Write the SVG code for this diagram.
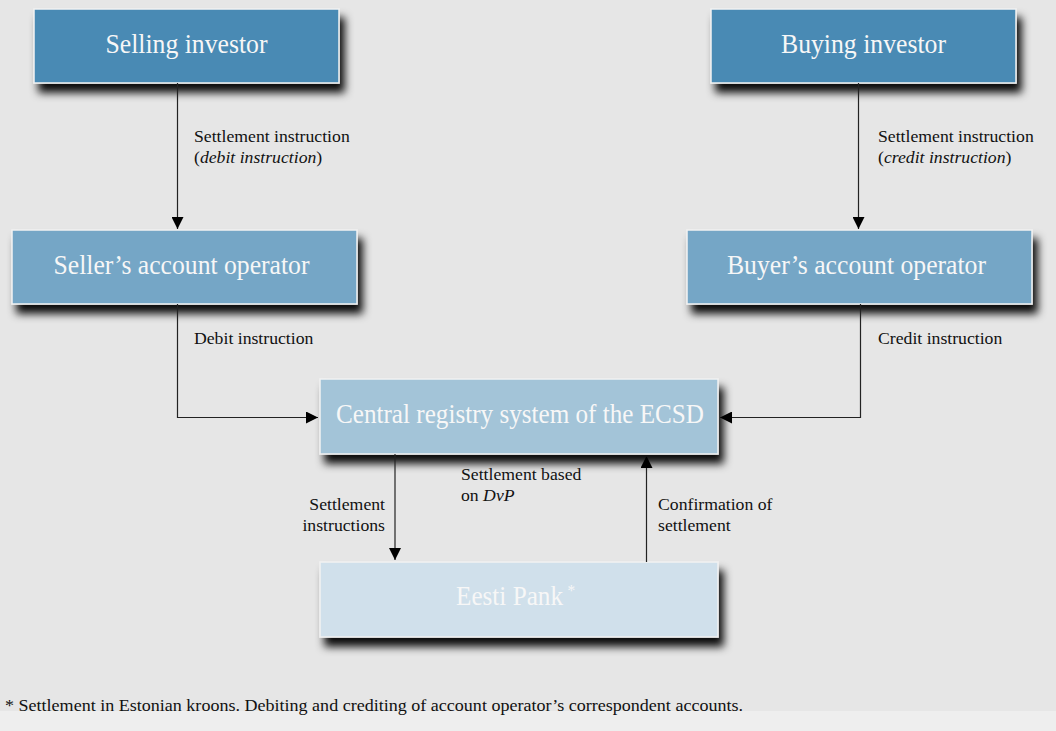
<svg xmlns="http://www.w3.org/2000/svg" width="1056" height="731" viewBox="0 0 1056 731">
<style>
.box{stroke:#f2f2f2;stroke-width:1.5}
.bt{font-family:"Liberation Serif","Times New Roman",serif;font-size:28px;fill:#f7f7f7;text-anchor:middle}
.lb{font-family:"Liberation Serif","Times New Roman",serif;font-size:17.7px;fill:#111}
.conn{fill:none;stroke:#222;stroke-width:1.2}
</style>
<defs>
<filter id="sh" x="-10%" y="-20%" width="130%" height="160%">
<feDropShadow dx="5" dy="9" stdDeviation="4" flood-color="#000" flood-opacity="0.95"/>
</filter>
<marker id="ah" markerWidth="12" markerHeight="12" refX="10" refY="5" orient="auto" markerUnits="userSpaceOnUse" viewBox="0 0 10 10">
<path d="M0,0 L10,5 L0,10 Z" fill="#000"/>
</marker>
</defs>
<rect width="1056" height="731" fill="#e6e6e6"/>
<rect x="0" y="711" width="1056" height="20" fill="#eeeeee"/>

<g id="selling-investor">
<rect class="box" x="34" y="9" width="305" height="74" fill="#4a8ab4" filter="url(#sh)"/>
<text class="bt" x="186.5" y="53" textLength="162" lengthAdjust="spacingAndGlyphs">Selling investor</text>
</g>
<g id="buying-investor">
<rect class="box" x="711" y="9" width="305" height="74" fill="#4a8ab4" filter="url(#sh)"/>
<text class="bt" x="863.5" y="53" textLength="165" lengthAdjust="spacingAndGlyphs">Buying investor</text>
</g>
<g id="seller-operator">
<rect class="box" x="12" y="230" width="345" height="74" fill="#74a6c6" filter="url(#sh)"/>
<text class="bt" x="181.5" y="274" textLength="256" lengthAdjust="spacingAndGlyphs">Seller’s account operator</text>
</g>
<g id="buyer-operator">
<rect class="box" x="687" y="230" width="345" height="74" fill="#74a6c6" filter="url(#sh)"/>
<text class="bt" x="856.5" y="274" textLength="259" lengthAdjust="spacingAndGlyphs">Buyer’s account operator</text>
</g>
<g id="central-registry">
<rect class="box" x="320" y="379" width="398" height="75" fill="#a3c4d8" filter="url(#sh)"/>
<text class="bt" x="520" y="423" textLength="368" lengthAdjust="spacingAndGlyphs">Central registry system of the ECSD</text>
</g>
<g id="eesti-pank">
<rect class="box" x="320" y="562" width="398" height="75" fill="#d0e0eb" filter="url(#sh)"/>
<text class="bt" transform="translate(456,605) scale(0.9,1)" x="0" y="0" style="text-anchor:start">Eesti Pank<tspan dx="5" dy="-9" font-size="17">*</tspan></text>
</g>

<g id="connectors">
<path class="conn" d="M177.5,83 V229" marker-end="url(#ah)"/>
<path class="conn" d="M858.5,83 V229" marker-end="url(#ah)"/>
<path class="conn" d="M177.5,304 V417.5 H318" marker-end="url(#ah)"/>
<path class="conn" d="M860.5,304 V417.5 H720" marker-end="url(#ah)"/>
<path class="conn" d="M395,454 V560" marker-end="url(#ah)"/>
<path class="conn" d="M646.5,562 V456" marker-end="url(#ah)"/>
</g>

<g id="labels">
<text class="lb" x="194" y="141.5">Settlement instruction</text>
<text class="lb" x="194" y="163">(<tspan font-style="italic">debit instruction</tspan>)</text>
<text class="lb" x="878" y="141.5">Settlement instruction</text>
<text class="lb" x="878" y="163">(<tspan font-style="italic">credit instruction</tspan>)</text>
<text class="lb" x="194" y="344">Debit instruction</text>
<text class="lb" x="878" y="344">Credit instruction</text>
<text class="lb" x="461" y="480">Settlement based</text>
<text class="lb" x="461" y="501">on <tspan font-style="italic">DvP</tspan></text>
<text class="lb" x="385" y="510" text-anchor="end">Settlement</text>
<text class="lb" x="385" y="531" text-anchor="end">instructions</text>
<text class="lb" x="658" y="510">Confirmation of</text>
<text class="lb" x="658" y="531">settlement</text>
<text class="lb" x="5" y="711" font-size="16.5" textLength="738" lengthAdjust="spacingAndGlyphs">* Settlement in Estonian kroons. Debiting and crediting of account operator’s correspondent accounts.</text>
</g>
</svg>
